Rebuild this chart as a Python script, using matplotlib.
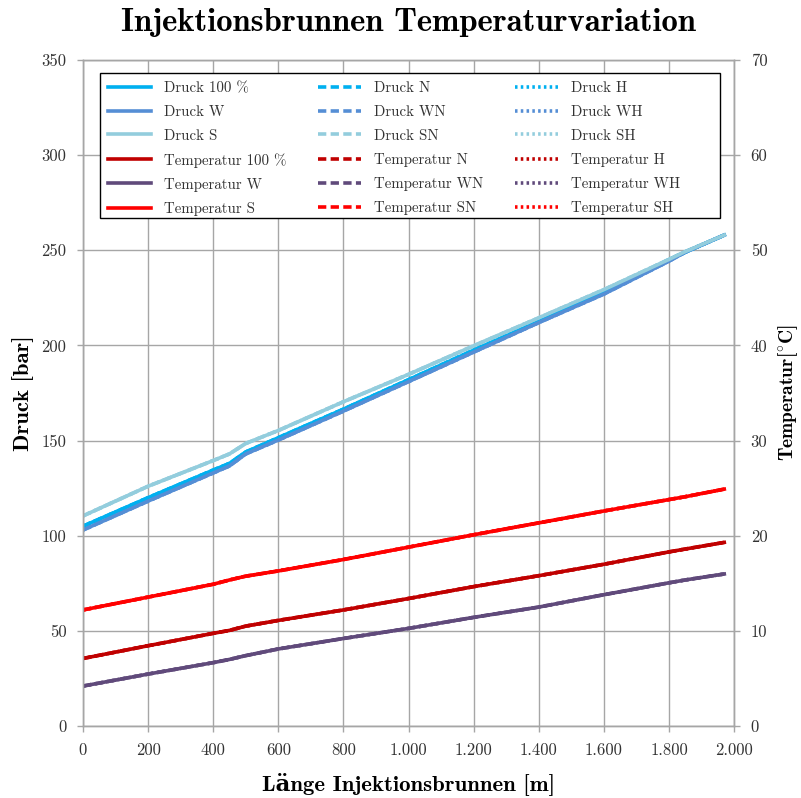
import matplotlib
matplotlib.use("Agg")
import matplotlib.pyplot as plt
from matplotlib.patches import Rectangle
from matplotlib.ticker import FuncFormatter, MultipleLocator

plt.rcParams['font.family'] = ['cmr10', 'DejaVu Serif']
plt.rcParams['axes.formatter.use_mathtext'] = True
plt.rcParams['mathtext.fontset'] = 'cm'

# Länge in m
laenge = [0, 200, 400, 450, 500, 600, 800, 1000, 1200, 1400, 1600, 1800, 1850, 1970]

# Druck in bar
druck_100 = [105.0, 120.0, 134.5, 138.0, 144.0, 151.5, 166.5, 182.0, 197.5, 212.5, 228.0, 245.0, 249.0, 258.0]
druck_w = [103.0, 118.2, 133.0, 136.7, 143.0, 150.3, 165.5, 181.0, 196.5, 212.0, 227.0, 244.3, 249.0, 258.0]
druck_s = [110.4, 126.0, 139.5, 143.0, 148.5, 155.3, 170.4, 184.8, 199.8, 214.5, 229.3, 245.2, 249.3, 258.0]

# Temperatur in °C
temp_100 = [7.1, 8.44, 9.74, 10.05, 10.5, 11.1, 12.2, 13.4, 14.65, 15.8, 17.0, 18.3, 18.6, 19.3]
temp_w = [4.2, 5.46, 6.66, 7.0, 7.4, 8.1, 9.2, 10.26, 11.42, 12.5, 13.8, 15.05, 15.35, 15.98]
temp_s = [12.2, 13.55, 14.9, 15.35, 15.75, 16.3, 17.5, 18.8, 20.1, 21.35, 22.6, 23.8, 24.1, 24.9]

# Varianten N und H liegen im Bild deckungsgleich unter den Basiskurven
druck_n, druck_wn, druck_sn = druck_100, druck_w, druck_s
druck_h, druck_wh, druck_sh = druck_100, druck_w, druck_s
temp_n, temp_wn, temp_sn = temp_100, temp_w, temp_s
temp_h, temp_wh, temp_sh = temp_100, temp_w, temp_s

c_d100, c_dw, c_ds = '#00B0F0', '#558ED5', '#93CDDD'
c_t100, c_tw, c_ts = '#C00000', '#604A7B', '#FF0000'
grid_c = '#A6A6A6'
lw = 2.6
dashed = (0, (2.3, 1.2))
dotted = (0, (0.7, 0.9))

fig = plt.figure(figsize=(8.01, 7.98), dpi=100)
ax = fig.add_axes([0.1036, 0.0902, 0.8128, 0.8346])
ax2 = ax.twinx()

handles = {}
# erst die verdeckten Varianten zeichnen, dann die Basiskurven obendrauf
for name, y, c in [('Druck N', druck_n, c_d100), ('Druck WN', druck_wn, c_dw), ('Druck SN', druck_sn, c_ds)]:
    handles[name], = ax.plot(laenge, y, color=c, lw=lw, ls=dashed)
for name, y, c in [('Druck H', druck_h, c_d100), ('Druck WH', druck_wh, c_dw), ('Druck SH', druck_sh, c_ds)]:
    handles[name], = ax.plot(laenge, y, color=c, lw=lw, ls=dotted)
for name, y, c in [('Druck 100 %', druck_100, c_d100), ('Druck W', druck_w, c_dw), ('Druck S', druck_s, c_ds)]:
    handles[name], = ax.plot(laenge, y, color=c, lw=lw)

for name, y, c in [('Temperatur N', temp_n, c_t100), ('Temperatur WN', temp_wn, c_tw), ('Temperatur SN', temp_sn, c_ts)]:
    handles[name], = ax2.plot(laenge, y, color=c, lw=lw, ls=dashed)
for name, y, c in [('Temperatur H', temp_h, c_t100), ('Temperatur WH', temp_wh, c_tw), ('Temperatur SH', temp_sh, c_ts)]:
    handles[name], = ax2.plot(laenge, y, color=c, lw=lw, ls=dotted)
for name, y, c in [('Temperatur 100 %', temp_100, c_t100), ('Temperatur W', temp_w, c_tw), ('Temperatur S', temp_s, c_ts)]:
    handles[name], = ax2.plot(laenge, y, color=c, lw=lw)

ax.set_xlim(0, 2000)
ax.set_ylim(0, 350)
ax2.set_ylim(0, 70)
ax.xaxis.set_major_locator(MultipleLocator(200))
ax.yaxis.set_major_locator(MultipleLocator(50))
ax2.yaxis.set_major_locator(MultipleLocator(10))
ax.xaxis.set_major_formatter(FuncFormatter(lambda v, p: f"{v:,.0f}".replace(",", ".")))
ax.yaxis.set_major_formatter(FuncFormatter(lambda v, p: f"{v:.0f}"))
ax2.yaxis.set_major_formatter(FuncFormatter(lambda v, p: f"{v:.0f}"))

ax.grid(True, color=grid_c, lw=1.0)
ax.set_axisbelow(True)
for a in (ax, ax2):
    for s in a.spines.values():
        s.set_color(grid_c)
        s.set_linewidth(1.0)
    a.tick_params(colors='#333333', labelsize=12, length=4, width=1.0, color=grid_c, pad=8)

bold = ['cmb10', 'DejaVu Serif']
ax.set_xlabel('Länge Injektionsbrunnen [m]', fontsize=16.4, fontweight='bold', family=bold, labelpad=10)
ax.set_ylabel('Druck [bar]', fontsize=16.4, fontweight='bold', family=bold, labelpad=5)
ax2.set_ylabel(r'Temperatur[$^{\circ}$C]', fontsize=14, fontweight='bold', family=bold, labelpad=6)
ax.set_title('Injektionsbrunnen Temperaturvariation', fontsize=23.5, fontweight='bold',
             family=bold, pad=21)

# Legendenrahmen
box = Rectangle((0.0254, 0.763), 0.953, 0.2175, transform=ax2.transAxes,
                facecolor='white', edgecolor='black', lw=1.0, zorder=5)
ax2.add_patch(box)

order = ['Druck 100 %', 'Druck W', 'Druck S', 'Temperatur 100 %', 'Temperatur W', 'Temperatur S',
         'Druck N', 'Druck WN', 'Druck SN', 'Temperatur N', 'Temperatur WN', 'Temperatur SN',
         'Druck H', 'Druck WH', 'Druck SH', 'Temperatur H', 'Temperatur WH', 'Temperatur SH']
leg = ax2.legend([handles[k] for k in order], order, ncol=3, loc='upper left',
                 bbox_to_anchor=(0.0254, 0.9805), borderaxespad=0, fontsize=10.75,
                 frameon=False, handlelength=2.9, handletextpad=0.87, labelspacing=0.68,
                 borderpad=0.55, columnspacing=2.1)
leg.set_zorder(6)
for t in leg.get_texts():
    t.set_color('#333333')

fig.savefig('out.png', dpi=100)
